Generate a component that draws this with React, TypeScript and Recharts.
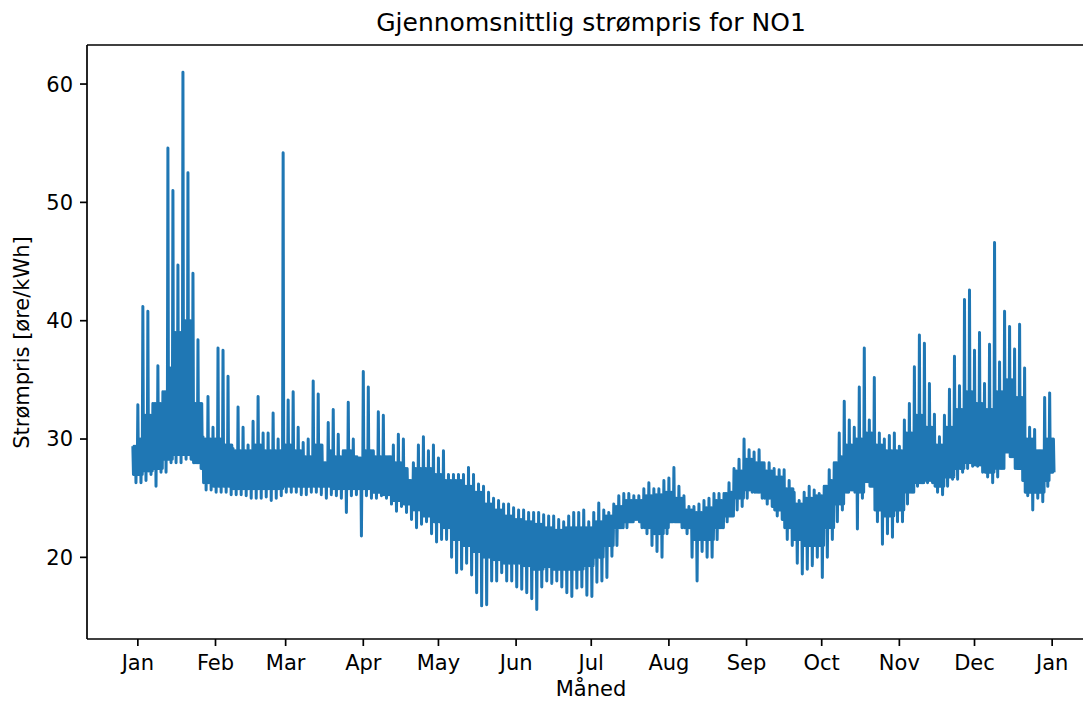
import React from 'react';
import { LineChart, Line, XAxis, YAxis, ReferenceLine } from 'recharts';

// one entry per 2 days from day -2 (Dec 30): highest spike and lowest dip
const START_DAY = -2;

const highs = [
  29.4, 32.9, 41.2, 40.8, 33, 36.2, 34, 54.6, 51, 44.7, 61, 52.5, 44, 38.4, 30.2, 33.6,
  31, 37.7, 37.5, 35.3, 29.2, 32.7, 31, 29.5, 31.5, 33.6, 30.5, 30.5, 32.2, 30, 54.2, 33.3,
  34, 31, 29.7, 30, 34.9, 33.8, 28, 31.4, 32.5, 30.4, 29, 33.1, 30, 28.4, 35.7, 34.4,
  29, 32.3, 32, 28.5, 29.5, 30.4, 30, 26.5, 28, 29.5, 30.2, 29, 29.5, 28.4, 29, 27,
  27, 27, 27, 27.6, 27, 26.2, 26, 25.5, 25, 24.8, 24.5, 24.5, 24.2, 24, 24, 23.8,
  23.8, 23.8, 23.6, 23.5, 23.5, 23.2, 23, 23.5, 23.8, 23.8, 24, 23, 23.8, 24.6, 24, 23.8,
  24.5, 25.2, 25.4, 25.4, 25.2, 25.2, 25.8, 26.3, 25.8, 25.8, 26.5, 26.7, 27.6, 26, 25.2, 24.3,
  24.3, 24.5, 24.8, 25, 25.4, 25.4, 25.4, 26.3, 27.5, 28.3, 30, 29.1, 28.9, 29.1, 28, 28,
  27.5, 27.4, 27.4, 26.5, 25.5, 24.8, 25.5, 26, 25.7, 25.4, 26, 27.4, 28, 30.5, 33.2, 31.6,
  31, 34.4, 37.7, 31.6, 35.2, 30.5, 30, 30.3, 30.5, 29.4, 31.6, 33, 36.1, 38.8, 38.1, 34.7,
  32.1, 30.2, 32, 34.2, 37, 34.5, 41.8, 42.6, 37.5, 39, 34.7, 38, 46.6, 36.5, 40.8, 39.5,
  37.6, 39.7, 36, 31, 30.8, 29, 33.5, 33.9,
];

const lows = [
  26.3, 26.3, 26.5, 27, 26, 27.2, 27.2, 28, 28, 28, 28.3, 28.3, 28, 27.5, 25.7, 25.7,
  25.5, 25.5, 25.5, 25.3, 25.3, 25.3, 25.2, 25, 25, 25, 25.1, 24.8, 25, 25.2, 25.5, 25.5,
  25.5, 25.3, 25.3, 25.5, 25.5, 25.3, 25, 25.3, 25.2, 25, 23.8, 25.2, 25.3, 21.8, 25.2, 25,
  25, 25.2, 25, 24.5, 23.9, 24.3, 23.8, 23.2, 22.5, 22.8, 23, 22, 21.3, 21.5, 21.5, 20,
  18.7, 19, 19.5, 18.5, 17, 15.9, 16, 18, 18, 18.7, 18, 18, 17.5, 17.3, 17, 16.5,
  15.6, 17.5, 18, 17.8, 18, 17.5, 17, 16.7, 17.4, 17.5, 16.8, 16.7, 17.9, 18, 18.3, 20.1,
  21, 22.5, 22.5, 23, 23.2, 22.5, 22, 21, 20.5, 20, 22, 23, 23, 22.5, 22, 20,
  18, 20.5, 20, 20, 21.5, 22.5, 23, 23.5, 24, 24.3, 25, 25.5, 25.5, 25, 24.5, 24.3,
  23.5, 23.2, 21.5, 21, 19.5, 18.6, 19, 19.3, 20, 18.3, 20, 21.5, 23, 24, 25.5, 25.7,
  22.4, 25, 26.4, 26, 23, 21.1, 22, 21.7, 23, 23, 24.5, 25.5, 26, 26.3, 26.3, 26.3,
  25.5, 25.3, 26, 26.6, 26.6, 27.2, 27.5, 27.7, 27.7, 27.2, 26.8, 26.3, 26.8, 27.5, 28.9, 28.5,
  27.5, 26.5, 25.2, 24, 25, 24.7, 26, 27.2,
];

// one entry per 4 days: top and bottom edge of the dense part of the band
const bodyTop = [
  30, 32, 33, 36, 39, 40, 33, 30, 30, 29.5, 29, 29, 29.5, 29, 29, 29.5,
  29, 28.5, 29.5, 29, 28.5, 29, 28.5, 29, 28.5, 28.5, 28, 27.5, 27.5, 27.5, 27, 26.5,
  26.5, 26, 25.5, 24.5, 24, 23.5, 23.2, 23, 22.8, 22.5, 22.3, 22.5, 22.5, 22.5, 23, 23.5,
  24.3, 24.8, 24.8, 25.2, 25.3, 25.5, 25, 24, 23.8, 24.2, 24.8, 25.5, 27.3, 28.3, 28, 27.3,
  26.8, 25.8, 24.5, 25, 25.2, 26.5, 28.5, 29.5, 30, 30.5, 29.5, 29, 29, 30.5, 32, 31,
  29.5, 31, 32.5, 34, 33, 32.5, 34, 35, 33.5, 30, 29, 30,
];
const bodyBottom = [
  27, 27.3, 27.5, 28.3, 28.7, 28.7, 28, 26.3, 26, 26, 25.8, 25.8, 25.8, 25.8, 25.8, 26,
  26, 26, 26, 26, 25.8, 25.8, 25.8, 25.8, 25.5, 25.3, 24.8, 24.5, 24, 23.5, 23, 22.5,
  21.5, 21, 20.5, 20, 19.8, 19.5, 19.5, 19.3, 19, 19.2, 19, 19, 19, 19.3, 20, 21,
  22.5, 23, 23, 22.5, 22, 22.5, 23, 22.5, 21.5, 21.5, 22.5, 23.5, 25, 25.7, 25.5, 25,
  24, 22.5, 21.5, 21, 21, 22.5, 24.5, 25.5, 25.5, 26, 24, 23.5, 24, 25.5, 26.3, 26.5,
  26, 26.8, 27.5, 28, 27.8, 27.2, 27.5, 28.5, 27.5, 25.5, 25.5, 26.5,
];

const monthStarts = [0, 31, 59, 90, 120, 151, 181, 212, 243, 273, 304, 334, 365];
const monthLabels = ['Jan', 'Feb', 'Mar', 'Apr', 'May', 'Jun', 'Jul', 'Aug', 'Sep', 'Oct', 'Nov', 'Dec', 'Jan'];
const yTicks = [20, 30, 40, 50, 60];

const X_MIN = -20.3;
const X_MAX = 382.5;
const Y_MIN = 13.1;
const Y_MAX = 63.3;

// within each 2-day slot: one spike, one dip, the rest swinging across the dense band
const data = highs.flatMap((h, i) => {
  const j = Math.floor(i / 2);
  const top = Math.min(bodyTop[j], h);
  const bot = Math.max(bodyBottom[j], lows[i]);
  const seq = [h, bot, top, bot, top, lows[i], top, bot];
  return seq.map((price, k) => ({ day: START_DAY + 2 * i + k * 0.25, price }));
});

const font = "'DejaVu Sans', sans-serif";
const tickStyle = { fontSize: 21, fill: '#000', fontFamily: font };

export default function App() {
  return (
    <div style={{ position: 'fixed', left: 0, top: 0, width: 1083, height: 701, overflow: 'hidden', background: '#fff', fontFamily: font }}>
      <LineChart width={1120} height={701} data={data} margin={{ top: 45, right: 24, bottom: 0, left: 0 }}>
        <XAxis
          dataKey="day"
          type="number"
          domain={[X_MIN, X_MAX]}
          allowDataOverflow
          ticks={monthStarts}
          interval={0}
          tickFormatter={(v: number) => monthLabels[monthStarts.indexOf(v)] ?? ''}
          height={62}
          tickSize={7}
          tickMargin={9}
          tick={tickStyle}
          axisLine={{ stroke: '#000', strokeWidth: 1.7 }}
          tickLine={{ stroke: '#000', strokeWidth: 1.7 }}
        />
        <YAxis
          type="number"
          domain={[Y_MIN, Y_MAX]}
          allowDataOverflow
          ticks={yTicks}
          interval={0}
          width={87}
          tickSize={7}
          tickMargin={7}
          tick={tickStyle}
          axisLine={{ stroke: '#000', strokeWidth: 1.7 }}
          tickLine={{ stroke: '#000', strokeWidth: 1.7 }}
        />
        <ReferenceLine y={Y_MAX} stroke="#000" strokeWidth={1.7} />
        <ReferenceLine x={X_MAX} stroke="#000" strokeWidth={1.7} />
        <Line
          type="linear"
          dataKey="price"
          stroke="#1f77b4"
          strokeWidth={3}
          strokeLinejoin="round"
          dot={false}
          isAnimationActive={false}
        />
      </LineChart>
      <div style={{ position: 'absolute', left: 0, top: 10, width: 1182, textAlign: 'center', fontSize: 25, lineHeight: '25px', color: '#000' }}>
        Gjennomsnittlig strømpris for NO1
      </div>
      <div style={{ position: 'absolute', left: 0, top: 681, width: 1182, textAlign: 'center', fontSize: 21, lineHeight: '17px', color: '#000' }}>
        Måned
      </div>
      <div
        style={{
          position: 'absolute',
          left: 22 - 300,
          top: 342 - 10.5,
          width: 600,
          height: 21,
          textAlign: 'center',
          fontSize: 21,
          lineHeight: '21px',
          color: '#000',
          transform: 'rotate(-90deg)',
        }}
      >
        Strømpris [øre/kWh]
      </div>
    </div>
  );
}
